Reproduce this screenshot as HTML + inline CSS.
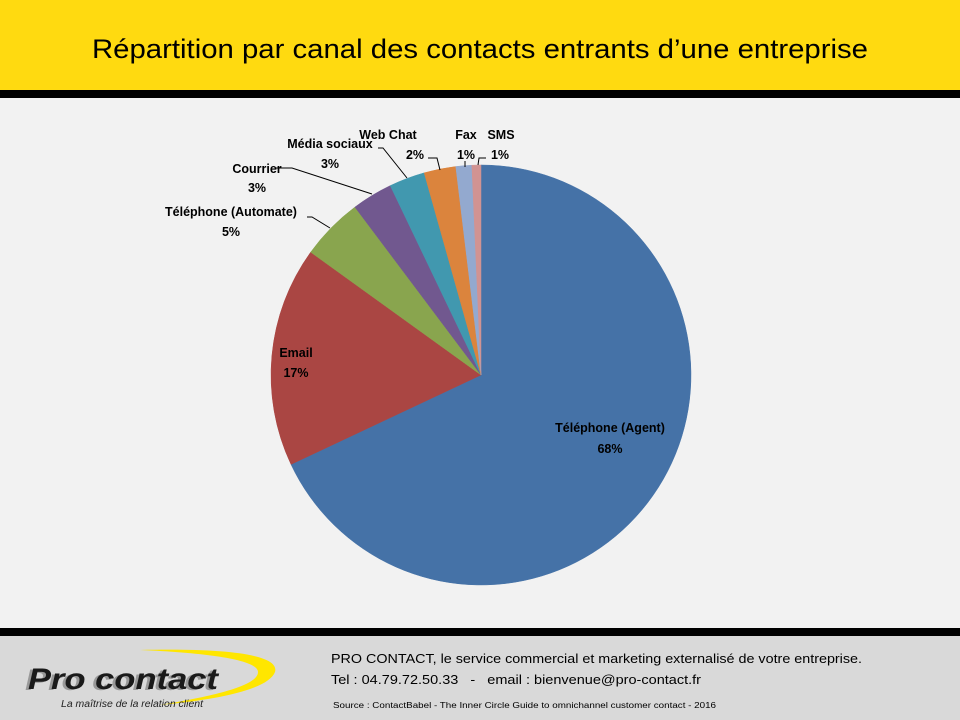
<!DOCTYPE html>
<html><head><meta charset="utf-8"><style>
html,body{margin:0;padding:0;width:960px;height:720px;overflow:hidden;background:#f2f2f2;}
svg{display:block;}
text{font-family:"Liberation Sans",sans-serif;}
</style></head><body>
<svg width="960" height="720" viewBox="0 0 960 720" xmlns="http://www.w3.org/2000/svg">
<rect x="0" y="0" width="960" height="90" fill="#ffda10"/>
<rect x="0" y="90" width="960" height="8" fill="#000"/>
<rect x="0" y="98" width="960" height="530" fill="#f2f2f2"/>
<text x="92" y="58" font-size="27" textLength="776" lengthAdjust="spacingAndGlyphs" fill="#000">Répartition par canal des contacts entrants d’une entreprise</text>
<g id="pie" stroke="none"></g>
<g stroke="#000" stroke-width="1" fill="none">
<polyline points="307,217 312,217 330,228"/>
<polyline points="276,168 292,168 372,194"/>
<polyline points="378,148 383,148 407,178"/>
<polyline points="428,158 437,158 440,170"/>
<polyline points="465,161 465,167"/>
<polyline points="486,158 479,158 478,165"/>
</g>
<g font-size="12.5" font-weight="bold" fill="#000" text-anchor="middle">
<text x="231" y="216">Téléphone (Automate)</text><text x="231" y="236">5%</text>
<text x="257" y="173">Courrier</text><text x="257" y="192">3%</text>
<text x="330" y="148">Média sociaux</text><text x="330" y="168">3%</text>
<text x="388" y="139">Web Chat</text><text x="415" y="159">2%</text>
<text x="466" y="139">Fax</text><text x="466" y="159">1%</text>
<text x="501" y="139">SMS</text><text x="500" y="159">1%</text>
<text x="296" y="357">Email</text><text x="296" y="377">17%</text>
<text x="610" y="432">Téléphone (Agent)</text><text x="610" y="453">68%</text>
</g>
<rect x="0" y="628" width="960" height="8" fill="#000"/>
<rect x="0" y="636" width="960" height="84" fill="#d9d9d9"/>
<path d="M140,650 C230,648 280,655 275,672 C268,690 215,700 160,705 C220,695 258,685 258,672 C258,660 210,653 140,650 Z" fill="#ffe600"/>
<text x="25" y="690" font-size="30" font-weight="bold" font-style="italic" fill="#999" textLength="190" lengthAdjust="spacingAndGlyphs">Pro contact</text>
<text x="28" y="689" font-size="30" font-weight="bold" font-style="italic" fill="#1a1a1a" textLength="190" lengthAdjust="spacingAndGlyphs">Pro contact</text>
<text x="61" y="707" font-size="10" font-style="italic" fill="#222" textLength="142" lengthAdjust="spacingAndGlyphs">La maîtrise de la relation client</text>
<text x="331" y="663" font-size="13" fill="#000" textLength="531" lengthAdjust="spacingAndGlyphs">PRO CONTACT, le service commercial et marketing externalisé de votre entreprise.</text>
<text x="331" y="684" font-size="13" fill="#000" textLength="370" lengthAdjust="spacingAndGlyphs" xml:space="preserve">Tel : 04.79.72.50.33   -   email : bienvenue@pro-contact.fr</text>
<text x="333" y="708" font-size="8" fill="#000" textLength="383" lengthAdjust="spacingAndGlyphs">Source : ContactBabel - The Inner Circle Guide to omnichannel customer contact - 2016</text>
</svg>
<script>
var cx=481,cy=375,r=210;
var b=[0,244.8,305.8,323.1,334.4,344.3,353.1,357.5,360];
var c=["#4572a7","#aa4643","#89a54e","#71588f","#4198af","#db843d","#93a9cf","#d19392"];
function pt(a){a=a*Math.PI/180;return [cx+r*Math.sin(a),cy-r*Math.cos(a)];}
var g=document.getElementById("pie"),s="";
for(var i=0;i<8;i++){var p=pt(b[i]),q=pt(b[i+1]),l=(b[i+1]-b[i])>180?1:0;
s+='<path d="M'+cx+','+cy+' L'+p[0]+','+p[1]+' A'+r+','+r+' 0 '+l+' 1 '+q[0]+','+q[1]+' Z" fill="'+c[i]+'" stroke="'+c[i]+'" stroke-width="0.5"/>';}
g.innerHTML=s;
</script>
</body></html>
